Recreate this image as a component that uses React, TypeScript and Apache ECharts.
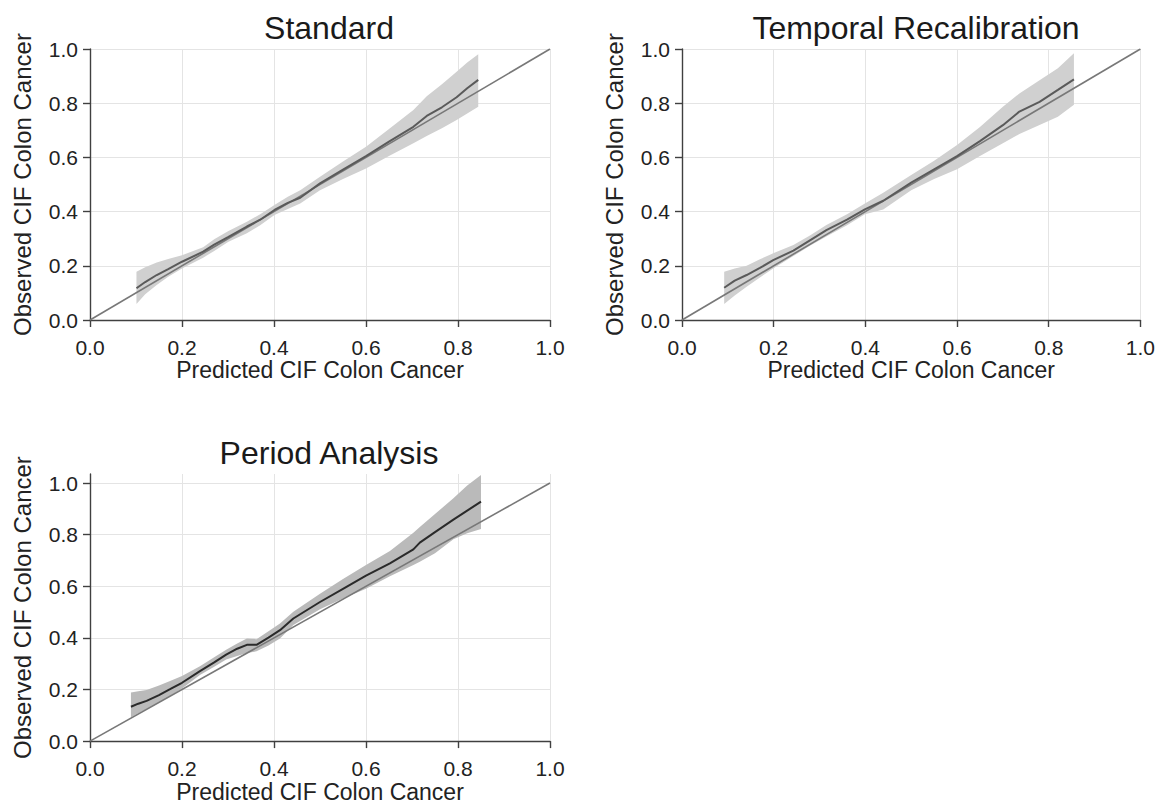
import React, { useEffect, useRef } from "react";
import * as echarts from "echarts";

// ---------- data ----------
const panelTitles = ["Standard", "Temporal Recalibration", "Period Analysis"];
const xAxisName = "Predicted CIF Colon Cancer";
const yAxisName = "Observed CIF Colon Cancer";
const tickValues = [0, 0.2, 0.4, 0.6, 0.8, 1.0];
const diagonal = [[0, 0], [1, 1]];

// Standard
const stdX = [0.101, 0.12, 0.145, 0.17, 0.2, 0.246, 0.27, 0.301, 0.341, 0.37, 0.401, 0.43, 0.457, 0.5, 0.55, 0.6, 0.65, 0.703, 0.732, 0.765, 0.797, 0.82, 0.844];
const stdObs = [0.117, 0.14, 0.166, 0.188, 0.215, 0.252, 0.278, 0.307, 0.345, 0.37, 0.406, 0.432, 0.451, 0.504, 0.555, 0.605, 0.658, 0.713, 0.753, 0.785, 0.822, 0.855, 0.886];
const stdHi = [0.178, 0.195, 0.212, 0.225, 0.239, 0.268, 0.298, 0.328, 0.363, 0.39, 0.424, 0.455, 0.479, 0.529, 0.585, 0.639, 0.705, 0.775, 0.826, 0.87, 0.916, 0.95, 0.981];
const stdLo = [0.059, 0.095, 0.129, 0.16, 0.19, 0.23, 0.255, 0.289, 0.32, 0.35, 0.387, 0.41, 0.43, 0.479, 0.52, 0.559, 0.605, 0.652, 0.679, 0.708, 0.738, 0.762, 0.787];

// Temporal Recalibration
const tmpX = [0.092, 0.115, 0.141, 0.17, 0.199, 0.243, 0.28, 0.315, 0.36, 0.399, 0.439, 0.5, 0.55, 0.6, 0.65, 0.7, 0.736, 0.78, 0.82, 0.855];
const tmpObs = [0.119, 0.145, 0.166, 0.192, 0.221, 0.256, 0.295, 0.332, 0.37, 0.408, 0.44, 0.507, 0.556, 0.605, 0.66, 0.719, 0.769, 0.805, 0.849, 0.888];
const tmpHi = [0.178, 0.19, 0.2, 0.224, 0.246, 0.277, 0.313, 0.351, 0.39, 0.43, 0.47, 0.535, 0.588, 0.646, 0.712, 0.787, 0.836, 0.885, 0.929, 0.984];
const tmpLo = [0.059, 0.09, 0.123, 0.157, 0.19, 0.236, 0.275, 0.308, 0.35, 0.39, 0.408, 0.479, 0.52, 0.556, 0.605, 0.652, 0.686, 0.72, 0.75, 0.794];

// Period Analysis
const perX = [0.089, 0.105, 0.123, 0.15, 0.174, 0.2, 0.239, 0.27, 0.296, 0.32, 0.341, 0.362, 0.388, 0.413, 0.442, 0.5, 0.55, 0.6, 0.652, 0.703, 0.717, 0.75, 0.79, 0.82, 0.85];
const perObs = [0.133, 0.145, 0.156, 0.178, 0.201, 0.226, 0.271, 0.305, 0.335, 0.358, 0.373, 0.373, 0.401, 0.43, 0.475, 0.539, 0.59, 0.641, 0.689, 0.743, 0.769, 0.81, 0.858, 0.893, 0.928];
const perHi = [0.188, 0.193, 0.198, 0.215, 0.233, 0.252, 0.29, 0.325, 0.354, 0.378, 0.398, 0.395, 0.426, 0.456, 0.501, 0.571, 0.628, 0.682, 0.737, 0.807, 0.83, 0.88, 0.941, 0.99, 1.031];
const perLo = [0.092, 0.108, 0.124, 0.15, 0.175, 0.204, 0.256, 0.288, 0.316, 0.33, 0.341, 0.348, 0.37, 0.398, 0.45, 0.511, 0.553, 0.59, 0.639, 0.682, 0.695, 0.728, 0.782, 0.805, 0.822];

const panels = [
  { x: stdX, obs: stdObs, hi: stdHi, lo: stdLo, yMax: 1, band: "#d0d0d0", line: "#5a5a5a" },
  { x: tmpX, obs: tmpObs, hi: tmpHi, lo: tmpLo, yMax: 1, band: "#d0d0d0", line: "#5a5a5a" },
  { x: perX, obs: perObs, hi: perHi, lo: perLo, yMax: 1.035, band: "#bababa", line: "#2a2a2a" },
];

const FONT = "'Liberation Sans', Arial, Helvetica, sans-serif";

export default function App() {
  const ref = useRef<HTMLDivElement>(null);

  useEffect(() => {
    if (!ref.current) return;
    const chart = echarts.init(ref.current, null, { renderer: "svg" });

    const gridPos = [
      { left: 90, top: 49, width: 460, height: 271 },
      { left: 682, top: 49, width: 459, height: 271 },
      { left: 90, top: 474, width: 460, height: 270 },
    ];
    const titleCenters = [324, 911, 324];
    const titleTops = [7, 7, 432];

    const axisCommon = (max: number) => ({
      type: "value",
      min: 0,
      max,
      interval: 0.2,
      axisLine: { show: true, onZero: false, lineStyle: { color: "#404040", width: 1.4 } },
      axisTick: { show: true, inside: false, length: 7, lineStyle: { color: "#404040", width: 1.4 }, customValues: tickValues },
      splitLine: { show: true, lineStyle: { color: "#e4e4e4", width: 1 } },
      axisLabel: {
        customValues: tickValues,
        color: "#222",
        fontSize: 21,
        fontFamily: FONT,
        formatter: (v: number) => v.toFixed(1),
      },
      nameLocation: "middle",
    });

    const xAxes: any[] = [];
    const yAxes: any[] = [];
    const series: any[] = [];
    panels.forEach((p, i) => {
      xAxes.push({
        ...axisCommon(1),
        gridIndex: i,
        name: xAxisName,
        nameGap: 38,
        nameTextStyle: { fontSize: 23, fontFamily: FONT, color: "#222" },
        axisLabel: { ...axisCommon(1).axisLabel, margin: 17 },
      });
      yAxes.push({
        ...axisCommon(p.yMax),
        gridIndex: i,
        name: yAxisName,
        nameGap: 56,
        nameTextStyle: { fontSize: 24, fontFamily: FONT, color: "#222" },
        axisLabel: { ...axisCommon(p.yMax).axisLabel, margin: 12 },
      });
      // confidence band: one polygon through upper bound then lower bound reversed
      const bandData = p.x.map((x, k) => [x, p.lo[k], p.hi[k]]);
      series.push({
        type: "custom",
        xAxisIndex: i,
        yAxisIndex: i,
        silent: true,
        z: 1,
        encode: { x: 0, y: [1, 2] },
        data: bandData,
        renderItem: (params: any, api: any) => {
          if (params.dataIndex !== 0) return null;
          const upper = bandData.map((d) => api.coord([d[0], d[2]]));
          const lower = bandData.map((d) => api.coord([d[0], d[1]])).reverse();
          return {
            type: "polygon",
            shape: { points: upper.concat(lower) },
            style: { fill: p.band, stroke: "none" },
          };
        },
      });
      series.push({
        type: "line",
        xAxisIndex: i,
        yAxisIndex: i,
        symbol: "none",
        silent: true,
        lineStyle: { color: "#787878", width: 1.6 },
        data: diagonal,
        z: 2,
      });
      series.push({
        type: "line",
        xAxisIndex: i,
        yAxisIndex: i,
        symbol: "none",
        silent: true,
        lineStyle: { color: p.line, width: 2 },
        data: p.x.map((x, k) => [x, p.obs[k]]),
        z: 3,
      });
    });

    chart.setOption({
      animation: false,
      backgroundColor: "#ffffff",
      title: panelTitles.map((t, i) => ({
        text: t,
        left: titleCenters[i],
        top: titleTops[i],
        textAlign: "center",
        textStyle: { fontSize: 32, fontWeight: "normal", fontFamily: FONT, color: "#1a1a1a" },
      })),
      grid: gridPos.map((g) => ({ ...g, containLabel: false })),
      xAxis: xAxes,
      yAxis: yAxes,
      series,
    });

    return () => chart.dispose();
  }, []);

  return (
    <div
      ref={ref}
      style={{ position: "fixed", left: 0, top: 0, width: 1158, height: 804, background: "#fff" }}
    />
  );
}
